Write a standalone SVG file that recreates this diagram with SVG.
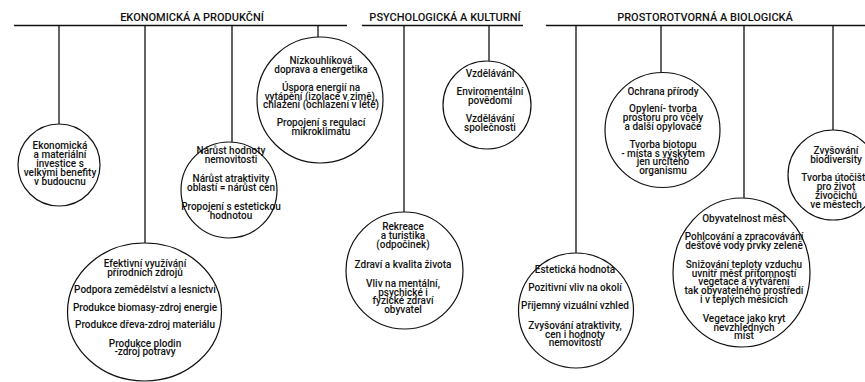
<svg xmlns="http://www.w3.org/2000/svg" width="865" height="382" viewBox="0 0 865 382">
<style>
.bg{fill:#ffffff}
.hdr{font-family:Roboto,"Liberation Sans",sans-serif;font-size:11px;font-weight:500;fill:#111;text-anchor:middle}
.bar{stroke:#111;stroke-width:1.4;fill:none}
.conn line{stroke:#111;stroke-width:1.3}
.node ellipse,.node circle{fill:#fff;stroke:#111;stroke-width:1.2}
.node text{font-family:Roboto,"Liberation Sans",sans-serif;font-size:10px;font-weight:500;fill:#111;text-anchor:middle}
</style>
<rect class="bg" x="0" y="0" width="865" height="382"/>
<g id="headers">
  <text class="hdr" x="192" y="21">EKONOMICKÁ A PRODUKČNÍ</text>
  <text class="hdr" x="445" y="21">PSYCHOLOGICKÁ A KULTURNÍ</text>
  <text class="hdr" x="705" y="21">PROSTOROTVORNÁ A BIOLOGICKÁ</text>
  <line class="bar" x1="14" y1="25.5" x2="347" y2="25.5"/>
  <line class="bar" x1="362" y1="25.5" x2="523" y2="25.5"/>
  <line class="bar" x1="546" y1="25.5" x2="865" y2="25.5"/>
</g>
<g id="connectors" class="conn">
  <line x1="59" y1="25" x2="59" y2="125"/>
  <line x1="145" y1="25" x2="145" y2="243"/>
  <line x1="232" y1="25" x2="232" y2="142"/>
  <line x1="318" y1="25" x2="318" y2="37"/>
  <line x1="404" y1="25" x2="404" y2="212"/>
  <line x1="489" y1="25" x2="489" y2="61"/>
  <line x1="576" y1="25" x2="576" y2="253"/>
  <line x1="661" y1="25" x2="661" y2="72"/>
  <line x1="744" y1="25" x2="744" y2="198"/>
  <line x1="833" y1="25" x2="833" y2="130"/>
</g>
<g id="node-investice" class="node">
  <circle cx="59" cy="165" r="41"/>
  <text x="60" y="148.5">Ekonomická</text>
  <text x="60" y="157.5">a materiální</text>
  <text x="60" y="166.5">investice s</text>
  <text x="60" y="175.5">velkými benefity</text>
  <text x="60" y="185">v budoucnu</text>
</g>
<g id="node-zdroje" class="node">
  <ellipse cx="144.5" cy="312" rx="77" ry="69"/>
  <text x="145" y="266.5">Efektivní využívání</text>
  <text x="145" y="275.5">přírodních zdrojů</text>
  <text x="145" y="292.5">Podpora zemědělství a lesnictví</text>
  <text x="145" y="310.5">Produkce biomasy-zdroj energie</text>
  <text x="145" y="327.5">Produkce dřeva-zdroj materiálu</text>
  <text x="145" y="346.5">Produkce plodin</text>
  <text x="145" y="355">-zdroj potravy</text>
</g>
<g id="node-nemovitosti" class="node">
  <circle cx="229" cy="190" r="48"/>
  <text x="231" y="153.5">Nárůst hodnoty</text>
  <text x="231" y="162.5">nemovitosti</text>
  <text x="231" y="181.5">Nárůst atraktivity</text>
  <text x="231" y="190.5">oblastí = nárůst cen</text>
  <text x="231" y="209.5">Propojení s estetickou</text>
  <text x="231" y="218.5">hodnotou</text>
</g>
<g id="node-energetika" class="node">
  <circle cx="320" cy="100" r="63"/>
  <text x="321" y="63.5">Nízkouhlíková</text>
  <text x="321" y="72.5">doprava a energetika</text>
  <text x="321" y="90.5">Úspora energií na</text>
  <text x="321" y="99.5">vytápění (izolace v zimě),</text>
  <text x="321" y="108">chlazení (ochlazení v létě)</text>
  <text x="321" y="125.5">Propojení s regulací</text>
  <text x="321" y="134.5">mikroklimatu</text>
</g>
<g id="node-rekreace" class="node">
  <circle cx="404.5" cy="270.5" r="58.5"/>
  <text x="403" y="229.5">Rekreace</text>
  <text x="403" y="238.5">a turistika</text>
  <text x="403" y="247.5">(odpočinek)</text>
  <text x="403" y="267.5">Zdraví a kvalita života</text>
  <text x="403" y="286.5">Vliv na mentální,</text>
  <text x="403" y="295.5">psychické i</text>
  <text x="403" y="303.5">fyzické zdraví</text>
  <text x="403" y="312.5">obyvatel</text>
</g>
<g id="node-vzdelavani" class="node">
  <circle cx="487" cy="105" r="44"/>
  <text x="490" y="76.5">Vzdělávání</text>
  <text x="490" y="94.5">Enviromentální</text>
  <text x="490" y="103.5">povědomí</text>
  <text x="490" y="121.5">Vzdělávání</text>
  <text x="490" y="130.5">společnosti</text>
</g>
<g id="node-estetika" class="node">
  <circle cx="576" cy="310.5" r="57.5"/>
  <text x="575" y="272.5">Estetická hodnota</text>
  <text x="575" y="290.5">Pozitivní vliv na okolí</text>
  <text x="575" y="308.5">Příjemný vizuální vzhled</text>
  <text x="575" y="328.5">Zvyšování atraktivity,</text>
  <text x="575" y="337.5">cen i hodnoty</text>
  <text x="575" y="345.5">nemovitostí</text>
</g>
<g id="node-ochrana" class="node">
  <circle cx="662.5" cy="130" r="57.5"/>
  <text x="663" y="94.5">Ochrana přírody</text>
  <text x="663" y="111.5">Opylení- tvorba</text>
  <text x="663" y="120.5">prostoru pro včely</text>
  <text x="663" y="129.5">a další opylovače</text>
  <text x="663" y="147.5">Tvorba biotopu</text>
  <text x="663" y="156.5">- místa s výskytem</text>
  <text x="663" y="164.5">jen určitého</text>
  <text x="663" y="173.5">organismu</text>
</g>
<g id="node-obyvatelnost" class="node">
  <ellipse cx="741.5" cy="272.5" rx="68.5" ry="74.5"/>
  <text x="744" y="221.5">Obyvatelnost měst</text>
  <text x="744" y="239.5">Pohlcování a zpracovávání</text>
  <text x="744" y="248.5">dešťové vody prvky zeleně</text>
  <text x="744" y="267.5">Snižování teploty vzduchu</text>
  <text x="744" y="276.5">uvnitř měst přítomností</text>
  <text x="744" y="284.5">vegetace a vytváření</text>
  <text x="744" y="293.5">tak obyvatelného prostředí</text>
  <text x="744" y="302.5">i v teplých měsících</text>
  <text x="744" y="321.5">Vegetace jako kryt</text>
  <text x="744" y="330.5">nevzhledných</text>
  <text x="744" y="338.5">míst</text>
</g>
<g id="node-biodiverzita" class="node">
  <circle cx="833" cy="175" r="45"/>
  <text x="836" y="153.5">Zvyšování</text>
  <text x="836" y="162.5">biodiversity</text>
  <text x="836" y="180.5">Tvorba útočiště</text>
  <text x="836" y="189.5">pro život</text>
  <text x="836" y="198.5">živočichů</text>
  <text x="836" y="207.5">ve městech</text>
</g>
</svg>
